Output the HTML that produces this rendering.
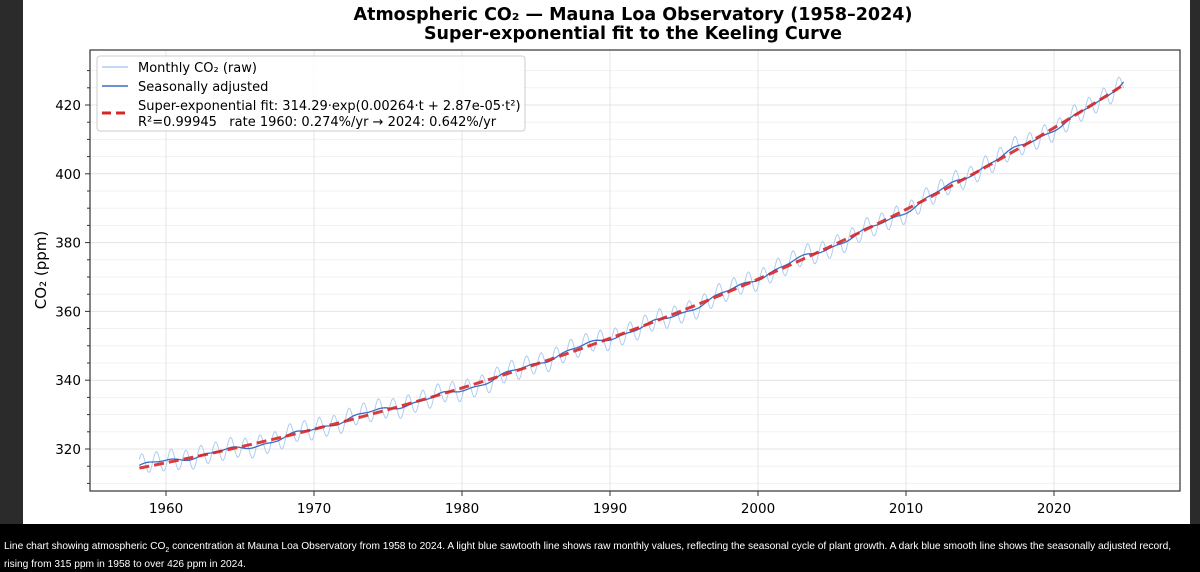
<!DOCTYPE html>
<html><head><meta charset="utf-8"><style>
html,body{margin:0;padding:0;width:1200px;height:569px;overflow:hidden;background:#000;font-family:"Liberation Sans","DejaVu Sans",sans-serif}
#l{position:absolute;left:0;top:0;width:23px;height:524px;background:#2b2b2b}
#r{position:absolute;left:1190px;top:0;width:10px;height:524px;background:#2b2b2b}
#p{position:absolute;left:23px;top:0;width:1167px;height:524px;background:#fff}
#cap{position:absolute;left:4px;top:540px;color:#fff;font-size:10.2px;line-height:14px;width:1195px}
</style></head><body>
<div id="l"></div><div id="r"></div><div id="p"></div>
<svg id="s" width="1200" height="524" style="position:absolute;left:0;top:0" font-family="DejaVu Sans, Liberation Sans, sans-serif">
<text x="633" y="20" text-anchor="middle" font-size="17.5" font-weight="bold">Atmospheric CO₂ — Mauna Loa Observatory (1958–2024)</text>
<text x="633" y="39" text-anchor="middle" font-size="17.5" font-weight="bold">Super-exponential fit to the Keeling Curve</text>
<g id="g"></g>
<text transform="translate(46,270) rotate(-90)" text-anchor="middle" font-size="15">CO₂ (ppm)</text>
</svg>
<div id="cap">Line chart showing atmospheric CO<sub style="font-size:7px">2</sub> concentration at Mauna Loa Observatory from 1958 to 2024. A light blue sawtooth line shows raw monthly values, reflecting the seasonal cycle of plant growth. A dark blue smooth line shows the seasonally adjusted record,<br>rising from 315 ppm in 1958 to over 426 ppm in 2024.</div>
<script>
var L=90,R=1180,T=50,B=491;
function X(y){return 166+(y-1960)*14.8}
function Y(v){return 449-(v-320)*3.44}
var h='';
for(var v=310;v<=430;v+=5){var y=Y(v);if(y<T||y>B)continue;h+='<line x1="'+L+'" x2="'+R+'" y1="'+y+'" y2="'+y+'" stroke="'+(v%20==0?'#e4e4e4':'#f1f1f1')+'" stroke-width="1"/>';
h+='<line x1="'+(L-(v%20==0?5:3))+'" x2="'+L+'" y1="'+y+'" y2="'+y+'" stroke="#333"/>';
if(v%20==0)h+='<text x="'+(L-9)+'" y="'+(y+5)+'" text-anchor="end" font-size="13.5">'+v+'</text>';}
for(var yr=1960;yr<=2020;yr+=10){var x=X(yr);h+='<line x1="'+x+'" x2="'+x+'" y1="'+T+'" y2="'+B+'" stroke="#e4e4e4"/><line x1="'+x+'" x2="'+x+'" y1="'+B+'" y2="'+(B+5)+'" stroke="#333"/><text x="'+x+'" y="'+(B+22)+'" text-anchor="middle" font-size="13.5">'+yr+'</text>';}
function f(t){return 314.29*Math.exp(0.00264*t+2.87e-5*t*t)}
var raw='',sa='',fit='';
for(var i=0;i<=798;i++){var yr=1958.2+i/12,t=yr-1958;
var s=f(t)+0.6*Math.sin(t*1.3)+0.5*Math.sin(t*0.45+1)+0.3*Math.sin(t*3.1);
if(yr>2023.5)s+= (yr-2023.5)*1.5;
var r=s+3*Math.sin(2*Math.PI*(yr-0.1));
raw+=(i?'L':'M')+X(yr).toFixed(1)+','+Y(r).toFixed(1);
sa+=(i?'L':'M')+X(yr).toFixed(1)+','+Y(s).toFixed(1);
fit+=(i?'L':'M')+X(yr).toFixed(1)+','+Y(f(t)).toFixed(1);}
h+='<path d="'+raw+'" fill="none" stroke="#aecdf0" stroke-width="1"/>';
h+='<path d="'+sa+'" fill="none" stroke="#3d6cc4" stroke-width="1.3"/>';
h+='<path d="'+fit+'" fill="none" stroke="#d62728" stroke-width="3" stroke-dasharray="10,5" opacity="0.9"/>';
h+='<rect x="'+L+'" y="'+T+'" width="'+(R-L)+'" height="'+(B-T)+'" fill="none" stroke="#333" stroke-width="1.2"/>';
h+='<rect x="97" y="56" width="428" height="75" rx="3" fill="#fff" fill-opacity="0.85" stroke="#ccc"/>';
h+='<line x1="102" x2="128" y1="67" y2="67" stroke="#aecdf0" stroke-width="1.5"/><text x="138" y="72" font-size="13">Monthly CO₂ (raw)</text>';
h+='<line x1="102" x2="128" y1="86" y2="86" stroke="#3d6cc4" stroke-width="1.5"/><text x="138" y="91" font-size="13">Seasonally adjusted</text>';
h+='<line x1="102" x2="128" y1="113" y2="113" stroke="#d62728" stroke-width="3" stroke-dasharray="9,5"/><text x="138" y="110" font-size="13">Super-exponential fit: 314.29·exp(0.00264·t + 2.87e-05·t²)</text><text x="138" y="126" font-size="13" xml:space="preserve">R²=0.99945   rate 1960: 0.274%/yr → 2024: 0.642%/yr</text>';
document.getElementById('g').innerHTML=h;
</script>
</body></html>
